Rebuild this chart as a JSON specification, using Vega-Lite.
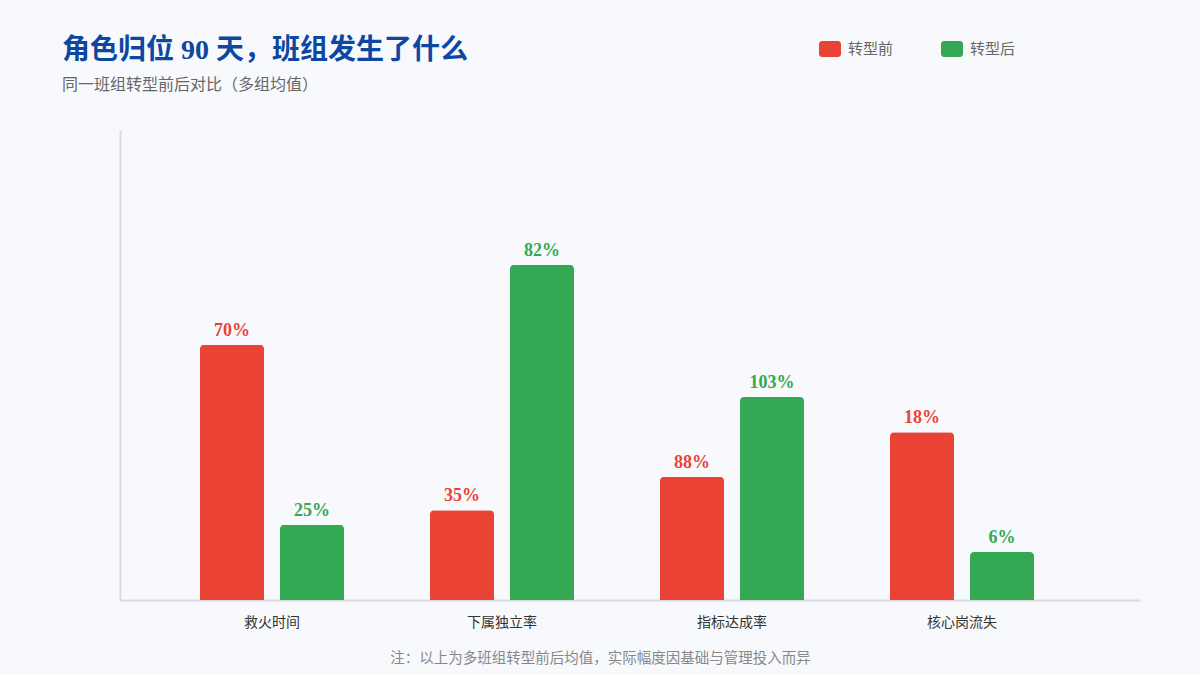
{
  "$schema": "https://vega.github.io/schema/vega-lite/v6.json",
  "autosize": {"type": "none"},
  "width": 1020,
  "height": 470,
  "padding": {"left": 120, "top": 130, "right": 60, "bottom": 75},
  "background": "#f7f9fc",
  "title": {
    "text": "角色归位 90 天，班组发生了什么",
    "subtitle": "同一班组转型前后对比（多组均值）",
    "anchor": "start",
    "frame": "group",
    "dx": -58,
    "offset": -54,
    "font": "Liberation Serif, Noto Sans CJK SC",
    "fontSize": 28,
    "fontWeight": "bold",
    "color": "#0d47a1",
    "subtitleFont": "Noto Sans CJK SC",
    "subtitleFontSize": 16,
    "subtitleColor": "#666666",
    "subtitlePadding": 12
  },
  "data": {
    "values": [
      {"metric": "救火时间", "phase": "转型前", "score": 54.3, "label": "70%"},
      {"metric": "救火时间", "phase": "转型后", "score": 16.0, "label": "25%"},
      {"metric": "下属独立率", "phase": "转型前", "score": 19.1, "label": "35%"},
      {"metric": "下属独立率", "phase": "转型后", "score": 71.3, "label": "82%"},
      {"metric": "指标达成率", "phase": "转型前", "score": 26.2, "label": "88%"},
      {"metric": "指标达成率", "phase": "转型后", "score": 43.2, "label": "103%"},
      {"metric": "核心岗流失", "phase": "转型前", "score": 35.7, "label": "18%"},
      {"metric": "核心岗流失", "phase": "转型后", "score": 10.2, "label": "6%"}
    ]
  },
  "encoding": {
    "x": {
      "field": "metric",
      "type": "nominal",
      "sort": ["救火时间", "下属独立率", "指标达成率", "核心岗流失"],
      "scale": {"paddingInner": 0, "paddingOuter": 0.2174, "align": 0.37},
      "axis": {
        "title": "注：以上为多班组转型前后均值，实际幅度因基础与管理投入而异",
        "titleFont": "Noto Sans CJK SC",
        "titleFontSize": 14.5,
        "titleFontWeight": "normal",
        "titleColor": "#888888",
        "titleX": 480,
        "titlePadding": 22,
        "labelAngle": 0,
        "labelFont": "Noto Sans CJK SC",
        "labelFontSize": 14,
        "labelColor": "#333333",
        "labelPadding": 15,
        "ticks": false,
        "domainColor": "#d9dbe0",
        "domainWidth": 2,
        "grid": false
      }
    },
    "xOffset": {
      "field": "phase",
      "type": "nominal",
      "sort": ["转型前", "转型后"],
      "scale": {"paddingInner": 0.2, "paddingOuter": 0.5375}
    },
    "y": {
      "field": "score",
      "type": "quantitative",
      "scale": {"domain": [0, 100], "nice": false},
      "axis": {
        "title": null,
        "labels": false,
        "ticks": false,
        "grid": false,
        "domainColor": "#d9dbe0",
        "domainWidth": 2
      }
    },
    "color": {
      "field": "phase",
      "type": "nominal",
      "sort": ["转型前", "转型后"],
      "scale": {"domain": ["转型前", "转型后"], "range": ["#ea4335", "#34a853"]}
    }
  },
  "layer": [
    {
      "mark": {"type": "bar", "cornerRadiusTopLeft": 4, "cornerRadiusTopRight": 4},
      "encoding": {
        "color": {
          "field": "phase",
          "type": "nominal",
          "sort": ["转型前", "转型后"],
          "scale": {"domain": ["转型前", "转型后"], "range": ["#ea4335", "#34a853"]},
          "legend": {
            "title": null,
            "orient": "none",
            "direction": "horizontal",
            "legendX": 700,
            "legendY": -91,
            "symbolType": "M-0.8,-0.8H0.8A0.3,0.3 0 0 1 1.1,-0.5V0.5A0.3,0.3 0 0 1 0.8,0.8H-0.8A0.3,0.3 0 0 1 -1.1,0.5V-0.5A0.3,0.3 0 0 1 -0.8,-0.8Z",
            "symbolSize": 400,
            "symbolStrokeWidth": 0,
            "labelFont": "Noto Sans CJK SC",
            "labelFontSize": 15,
            "labelColor": "#666666",
            "labelOffset": 8,
            "columnPadding": 47
          }
        }
      }
    },
    {
      "mark": {
        "type": "text",
        "baseline": "alphabetic",
        "dy": -9,
        "font": "Liberation Serif",
        "fontSize": 18,
        "fontWeight": "bold"
      },
      "encoding": {
        "text": {"field": "label"},
        "color": {
          "field": "phase",
          "type": "nominal",
          "sort": ["转型前", "转型后"],
          "scale": {"domain": ["转型前", "转型后"], "range": ["#ea4335", "#34a853"]},
          "legend": null
        }
      }
    }
  ],
  "config": {"view": {"stroke": null}}
}
